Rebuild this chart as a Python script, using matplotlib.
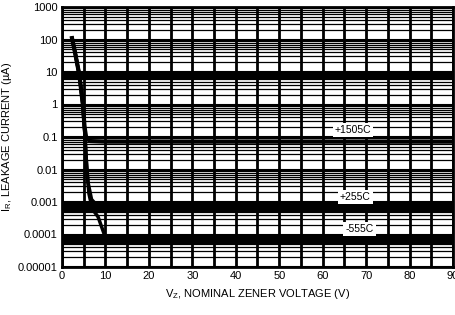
import matplotlib
matplotlib.use("Agg")
import matplotlib.pyplot as plt
from matplotlib import font_manager
from matplotlib.ticker import LogLocator, MultipleLocator, NullFormatter

# font: narrow sans if present
names = {f.name for f in font_manager.fontManager.ttflist}
fam = "Liberation Sans Narrow" if "Liberation Sans Narrow" in names else "Liberation Sans"
plt.rcParams['font.family'] = [fam, 'DejaVu Sans']

# data
vz_150 = [2.3, 3.0, 4.0, 4.8, 5.2, 5.6, 6.5, 10, 90]
ir_150 = [110, 40, 8, 1.0, 0.2, 0.09, 0.075, 0.072, 0.072]

vz_25 = [2.3, 3.0, 4.0, 4.8, 5.3, 5.6, 6.0, 6.8, 8, 90]
ir_25 = [110, 40, 8, 1.0, 0.1, 0.02, 0.004, 0.0012, 0.0008, 0.00068]

vz_55 = [2.3, 3.0, 4.0, 4.8, 5.3, 5.7, 6.2, 7.0, 8.3, 10, 90]
ir_55 = [110, 40, 8, 1.0, 0.1, 0.01, 0.0018, 0.0006, 0.00035, 0.00008, 0.000064]

# dark bands in the scan (lower, upper)
band_lo = [5.7, 0.00049, 0.000048]
band_hi = [10.7, 0.00093, 0.000084]

labels = ["+1505C", "+255C", "-555C"]
label_x = [67, 67.5, 68.5]
label_y = [0.165, 0.0014, 0.00015]

y_ticks = [0.00001, 0.0001, 0.001, 0.01, 0.1, 1, 10, 100, 1000]
y_ticklabels = ["0.00001", "0.0001", "0.001", "0.01", "0.1", "1", "10", "100", "1000"]

fig = plt.figure(figsize=(4.56, 3.15), dpi=100)
ax = fig.add_axes([62/456, 48/315, 391/456, 260/315])
ax.set_yscale('log')
ax.set_xlim(0, 90)
ax.set_ylim(1e-5, 1000)

ax.yaxis.set_major_locator(LogLocator(base=10, numticks=20))
ax.yaxis.set_minor_locator(LogLocator(base=10, subs=range(2, 10), numticks=100))
ax.yaxis.set_minor_formatter(NullFormatter())
ax.set_yticks(y_ticks)
ax.set_yticklabels(y_ticklabels)
ax.xaxis.set_major_locator(MultipleLocator(10))
ax.xaxis.set_minor_locator(MultipleLocator(5))

ax.grid(which='major', axis='y', color='black', lw=1.5)
ax.grid(which='minor', axis='y', color='black', lw=0.9)
ax.grid(which='both', axis='x', color='black', lw=2.0)
ax.tick_params(which='both', length=0, labelsize=8, pad=3)
for s in ax.spines.values():
    s.set_linewidth(2.0)

for lo, hi in zip(band_lo, band_hi):
    ax.axhspan(lo, hi, color='black', lw=0)

ax.plot(vz_150, ir_150, color='black', lw=3.0)
ax.plot(vz_25, ir_25, color='black', lw=2.5)
ax.plot(vz_55, ir_55, color='black', lw=2.5)

for t, x, y in zip(labels, label_x, label_y):
    ax.text(x, y, t, fontsize=7.5, ha='center', va='center',
            bbox=dict(facecolor='white', edgecolor='none', pad=1.5))

ax.set_xlabel("V$_\\mathregular{Z}$, NOMINAL ZENER VOLTAGE (V)", fontsize=8, labelpad=4)
ax.set_ylabel("I$_\\mathregular{R}$, LEAKAGE CURRENT (\u00b5A)", fontsize=8, labelpad=3)

fig.savefig("out.png", dpi=100)
